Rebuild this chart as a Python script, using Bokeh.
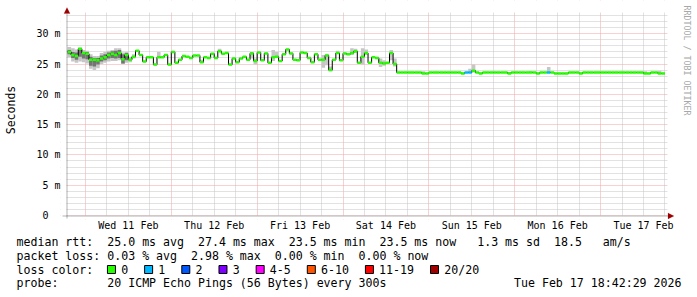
import re
from bokeh.plotting import figure
from bokeh.layouts import column
from bokeh.models import (Range1d, FixedTicker, Label, BoxAnnotation, PolyAnnotation,
                          ColumnDataSource)
from bokeh.core.properties import value
from bokeh.embed import file_html
from bokeh.resources import INLINE

# ---------------- data ----------------
# time in hours since Tue Feb 10 2026 00:00
window_start = 18 + 42 / 60 + 29 / 3600      # Feb 10 18:42:29
window_end = window_start + 7 * 24           # Feb 17 18:42:29
first_step = 19                              # first hourly value: Feb 10 19:00

# hourly median rtt (ms)
median_ms = [
    27.0, 26.5, 26.3, 27.5, 26.8, 26.7, 25.7, 25.7, 25.6, 25.9, 26.1, 26.5,
    26.7, 26.5, 26.8, 25.8, 26.5, 25.7, 26.2, 27.2, 26.5, 25.4, 26.1, 26.1,
    24.9, 26.1, 26.1, 26.5, 24.9, 27.0, 25.2, 25.7, 26.3, 26.2, 26.0, 26.4,
    26.4, 25.3, 26.1, 26.0, 26.7, 26.0, 27.1, 26.7, 26.8, 24.9, 25.9, 25.3,
    25.9, 26.2, 25.7, 26.75, 25.5, 26.9, 25.6, 26.75, 25.2, 26.1, 26.2, 25.5,
    26.6, 27.4, 26.75, 25.7, 25.6, 26.9, 26.8, 26.0, 25.3, 26.6, 25.7, 25.7,
    26.4, 24.0, 25.7, 26.8, 25.6, 26.75, 26.6, 26.8, 27.1, 25.2, 26.2, 26.8,
    25.2, 26.1, 26.0, 25.2, 25.1, 25.2, 26.8, 25.0, 23.6, 23.6, 23.6, 23.6,
    23.6, 23.6, 23.6, 23.45, 23.45, 23.6, 23.6, 23.6, 23.6, 23.6, 23.6, 23.6,
    23.6, 23.6, 23.45, 23.6, 23.6, 23.9, 23.6, 23.45, 23.6, 23.6, 23.6, 23.6,
    23.6, 23.6, 23.6, 23.45, 23.6, 23.6, 23.6, 23.6, 23.6, 23.6, 23.6, 23.45,
    23.6, 23.6, 23.6, 23.6, 23.45, 23.45, 23.45, 23.45, 23.6, 23.6, 23.6, 23.45,
    23.6, 23.6, 23.6, 23.6, 23.6, 23.6, 23.6, 23.6, 23.6, 23.6, 23.6, 23.6,
    23.6, 23.6, 23.6, 23.6, 23.6, 23.45, 23.45, 23.6, 23.6, 23.45, 23.45,
]

# lost pings (of 20) per hourly step, only where non-zero
loss_events = {111: 1, 112: 1, 134: 1}

# smoke: outer (all pings) and core (middle pings) ranges, ms
smoke_outer_idx = [0, 1, 2, 3, 4, 5, 6, 7, 8, 9, 10, 11, 12, 13, 14, 15, 16, 17, 18,
                   25, 37, 42, 51, 52, 57, 58, 71, 72, 73, 75, 79, 80, 82, 83,
                   87, 88, 90, 91, 99, 112, 113, 123, 129, 134, 161, 165]
smoke_outer_lo = [26.1, 25.4, 25.2, 25.4, 25.3, 25.1, 24.2, 24.0, 24.3, 25.0, 25.2, 25.4, 25.5,
                  25.5, 25.6, 25.0, 25.2, 25.3, 25.9,
                  26.0, 25.2, 27.0, 25.9, 24.9, 25.5, 26.0, 24.4, 24.8, 23.8, 26.7, 26.5, 26.8,
                  24.9, 26.5, 24.5, 24.7, 25.6, 24.6, 23.4, 23.5, 23.6, 23.4, 23.5, 23.5, 23.4, 23.4]
smoke_outer_hi = [27.8, 27.6, 27.4, 27.7, 27.3, 27.2, 26.6, 26.3, 26.3, 26.8, 27.0, 27.2, 27.3,
                  27.6, 27.6, 26.9, 27.0, 26.2, 26.6,
                  27.0, 25.7, 27.5, 27.0, 25.9, 27.3, 27.0, 26.5, 26.7, 24.6, 27.2, 27.6, 27.5,
                  27.6, 27.4, 25.9, 25.6, 27.3, 25.9, 23.8, 24.2, 24.9, 23.7, 23.8, 24.5, 23.8, 23.9]
smoke_core_idx = [0, 1, 2, 3, 4, 5, 6, 7, 8, 9, 10, 11, 12, 13, 14, 15, 16]
smoke_core_lo = [26.6, 26.0, 25.7, 26.2, 25.9, 25.8, 24.7, 24.6, 24.9, 25.4, 25.6, 25.9, 26.0,
                 25.9, 26.0, 25.1, 25.6]
smoke_core_hi = [27.3, 27.0, 26.9, 27.5, 27.0, 27.0, 26.2, 26.0, 26.0, 26.4, 26.6, 26.9, 27.1,
                 27.2, 27.3, 26.6, 26.8]

day_label_hours = [36, 60, 84, 108, 132, 156, 180]
day_labels = ["Wed 11 Feb", "Thu 12 Feb", "Fri 13 Feb", "Sat 14 Feb",
              "Sun 15 Feb", "Mon 16 Feb", "Tue 17 Feb"]
midnight_hours = [24, 48, 72, 96, 120, 144, 168]
y_ticks = [0, 5, 10, 15, 20, 25, 30]
y_tick_labels = ["0  ", "5 m", "10 m", "15 m", "20 m", "25 m", "30 m"]
y_top = 33.5

loss_classes = ["0", "1", "2", "3", "4-5", "6-10", "11-19", "20/20"]
loss_colors = ["#26ff00", "#00b8ff", "#0059ff", "#7e00ff", "#ff00ff", "#ff5500", "#ff0000", "#a10000"]

legend_rtt = "median rtt:  25.0 ms avg  27.4 ms max  23.5 ms min  23.5 ms now   1.3 ms sd  18.5   am/s"
legend_loss = "packet loss: 0.03 % avg  2.98 % max  0.00 % min  0.00 % now"
legend_color_title = "loss color:"
legend_probe = "probe:       20 ICMP Echo Pings (56 Bytes) every 300s"
legend_date = "Tue Feb 17 18:42:29 2026"
watermark = "RRDTOOL / TOBI OETIKER"

# ---------------- layout constants (pixels) ----------------
W = 697
MAIN_H = 233
LEG_H = 297 - MAIN_H
MONO = "DejaVu Sans Mono"
CW = 6.98                       # char advance of the legend font
PXH = 601 / 168                 # px per hour
PXM = 6.06                      # px per ms
FRAME_L, FRAME_B = 60, 219      # frame left / bottom in canvas px
AXIS_X, AXIS_Y = 66, 215        # canvas position of the axes

p = figure(width=W, height=MAIN_H, title=None,
           x_range=Range1d(window_start - (AXIS_X - FRAME_L) / PXH, window_end + 30 / PXH),
           y_range=Range1d(-(FRAME_B - AXIS_Y) / PXM, AXIS_Y / PXM),
           output_backend="svg", toolbar_location=None,
           min_border_left=FRAME_L, min_border_right=0, min_border_top=0,
           min_border_bottom=MAIN_H - FRAME_B,
           background_fill_color="white", border_fill_color="white")
p.outline_line_color = None
p.frame_align = False

# grids
six_hourly = [h for h in range(0, 200, 6) if h % 24 and window_start <= h <= window_end]
p.xgrid[0].ticker = FixedTicker(ticks=midnight_hours, minor_ticks=six_hourly)
for g in (p.xgrid[0], p.ygrid[0]):
    g.grid_line_color = "#f0a4a4"
    g.grid_line_dash = "1 1"
    g.grid_line_width = 1
    g.minor_grid_line_color = "#c4c4c4"
    g.minor_grid_line_dash = "1 1"
    g.minor_grid_line_width = 1

# axes (labels only; axis lines drawn below)
xa = p.xaxis[0]
xa.ticker = FixedTicker(ticks=day_label_hours)
xa.major_label_overrides = {h: t for h, t in zip(day_label_hours, day_labels)}
ya = p.yaxis[0]
ya.ticker = FixedTicker(ticks=y_ticks, minor_ticks=[m for m in range(1, 34) if m % 5])
ya.major_label_overrides = {v: t for v, t in zip(y_ticks, y_tick_labels)}
ya.axis_label = "Seconds"
ya.axis_label_text_font = MONO
ya.axis_label_text_font_size = "11.5px"
ya.axis_label_text_font_style = "normal"
ya.axis_label_text_color = "black"
ya.axis_label_standoff = 15
for a in (xa, ya):
    a.major_tick_line_color = None
    a.minor_tick_line_color = None
    a.major_tick_out = 0
    a.major_tick_in = 0
    a.minor_tick_out = 0
    a.minor_tick_in = 0
    a.axis_line_color = None
    a.major_label_text_font = MONO
    a.major_label_text_font_size = "10px"
    a.major_label_text_color = "black"
    a.major_label_standoff = 0

# smoke
def quads(idx, lo, hi, color):
    src = ColumnDataSource(dict(left=[first_step + i for i in idx],
                                right=[first_step + i + 1 for i in idx],
                                bottom=lo, top=hi))
    p.quad(left="left", right="right", bottom="bottom", top="top", source=src,
           fill_color=color, line_color=None)

quads(smoke_outer_idx, smoke_outer_lo, smoke_outer_hi, "#c6c6c6")
quads(smoke_core_idx, smoke_core_lo, smoke_core_hi, "#747474")

# median line: black steps + loss-coloured level segments
n = len(median_ms)
starts = [first_step + i for i in range(n)]
ends = [first_step + i + 1 for i in range(n)]
lx, ly = [], []
for s, e, v in zip(starts, ends, median_ms):
    lx += [s, e]
    ly += [v, v]
p.line(lx, ly, line_color="black", line_width=1)


def loss_class(k):
    if k <= 3:
        return k
    if k <= 5:
        return 4
    if k <= 10:
        return 5
    if k <= 19:
        return 6
    return 7


seg_colors = [loss_colors[loss_class(loss_events.get(i, 0))] for i in range(n)]
p.segment(x0=starts, x1=ends, y0=median_ms, y1=median_ms, line_color=seg_colors, line_width=2.5)

# white covers: keep the grid inside the graph area only
for kw in (dict(right=window_start), dict(left=window_end), dict(bottom=y_top), dict(top=0)):
    p.add_layout(BoxAnnotation(fill_color="white", fill_alpha=1, line_color=None, **kw))

# axis lines and arrow heads (screen units relative to frame: x from left, y from bottom)
ax = AXIS_X - FRAME_L + 0.5
ay = FRAME_B - AXIS_Y - 0.5
p.add_layout(PolyAnnotation(xs=[ax, ax], ys=[1, FRAME_B - 13], xs_units="screen", ys_units="screen",
                            fill_alpha=0, line_color="black", line_width=1))
p.add_layout(PolyAnnotation(xs=[2, 667.5 - FRAME_L], ys=[ay, ay], xs_units="screen", ys_units="screen",
                            fill_alpha=0, line_color="black", line_width=1))
p.add_layout(PolyAnnotation(xs=[ax - 3, ax + 3, ax], ys=[FRAME_B - 13, FRAME_B - 13, FRAME_B - 7],
                            xs_units="screen", ys_units="screen",
                            fill_color="#9b0000", fill_alpha=1, line_color="#9b0000", line_width=0.5))
p.add_layout(PolyAnnotation(xs=[667.5 - FRAME_L, 667.5 - FRAME_L, 673.5 - FRAME_L], ys=[ay + 3, ay - 3, ay],
                            xs_units="screen", ys_units="screen",
                            fill_color="#9b0000", fill_alpha=1, line_color="#9b0000", line_width=0.5))

# watermark
p.add_layout(Label(x=686 - FRAME_L, y=FRAME_B - 5, x_units="screen", y_units="screen",
                   text=watermark, text_font=MONO, text_font_size="8.3px", text_color="#a8a8a8",
                   text_align="left", text_baseline="middle", angle=-1.5707963))

# ---------------- legend block (own figure, 1 unit = 1 px) ----------------
q = figure(width=W, height=LEG_H, x_range=Range1d(0, W), y_range=Range1d(297, MAIN_H),
           output_backend="svg", toolbar_location=None, title=None,
           x_axis_type=None, y_axis_type=None, min_border=0,
           min_border_left=0, min_border_right=0, min_border_top=0, min_border_bottom=0,
           background_fill_color="white", border_fill_color="white")
q.outline_line_color = None
q.frame_align = False
q.xgrid.visible = False
q.ygrid.visible = False

tx, ty, tt = [], [], []


def row(txt, yc, x0=16):
    for m in re.finditer(r"\S+(?: \S+)*", txt):
        tx.append(x0 + m.start() * CW)
        ty.append(yc)
        tt.append(m.group())


row(legend_rtt, 241)
row(legend_loss, 255)
row(legend_color_title, 269)
row(legend_probe, 282.5)

bl, br, bc = [], [], []
bx = 16 + 13 * CW + 0.2
for lab, col in zip(loss_classes, loss_colors):
    bl.append(bx)
    br.append(bx + 8)
    bc.append(col)
    tx.append(bx + 13.7)
    ty.append(269)
    tt.append(lab)
    bx = bx + 13.7 + len(lab) * CW + 16.5

q.text(x=tx, y=ty, text=tt, text_font=value(MONO), text_font_size="11.6px",
       text_color="black", text_baseline="middle", text_align="left")
q.text(x=[681], y=[282.5], text=[legend_date], text_font=value(MONO), text_font_size="11.6px",
       text_color="black", text_baseline="middle", text_align="right")
q.quad(left=bl, right=br, top=[265] * len(bl), bottom=[273] * len(bl),
       fill_color=bc, line_color="black", line_width=1)

layout = column(p, q, spacing=0)
open("out.html", "w").write(file_html(layout, INLINE))
